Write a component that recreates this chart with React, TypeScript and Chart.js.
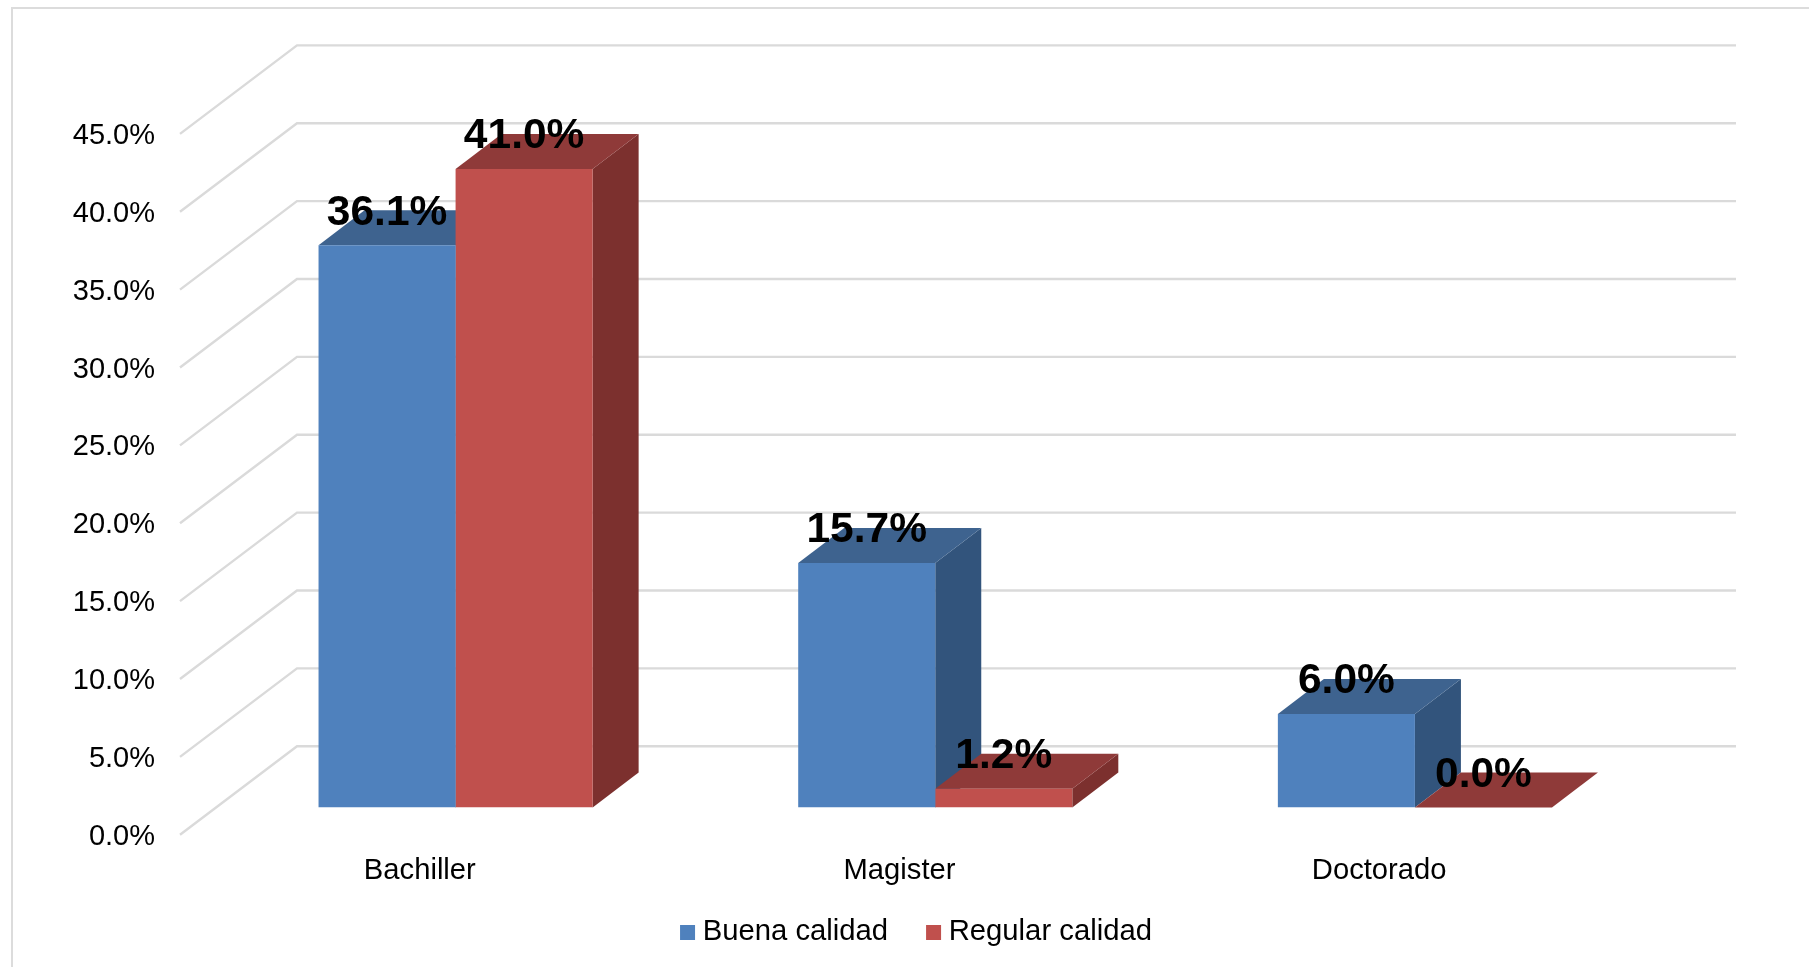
import React, { useEffect, useRef } from "react";
import { Chart, registerables } from "chart.js";

Chart.register(...registerables);

const categories = ["Bachiller", "Magister", "Doctorado"];
const buenaCalidad = [36.1, 15.7, 6.0];
const regularCalidad = [41.0, 1.2, 0.0];
const seriesNames = ["Buena calidad", "Regular calidad"];

const FONT = '"Liberation Sans", Arial, sans-serif';
const W = 1809;
const H = 967;
// Bars stand on a plane inside the box: the walls and labels are offset from it.
const PLANE = { left: 215.75, right: 1654.75, top: 106.7, bottom: 807.3 };
const FRONT = { dx: -35.75, dy: 27.2 };
const BACK = { dx: 81.25, dy: -61.3 };
const BAR_DEPTH = { dx: 46, dy: -35 };
const SHADES = [
  { top: "#3E638F", side: "#32547C" },
  { top: "#8F3A39", side: "#7C302E" },
];

const scene3d = {
  id: "scene3d",
  afterLayout(chart: any) {
    // Tick labels sit outside their axis boxes, so widen the boxes they are clipped to.
    chart.scales.y.left = 0;
    chart.scales.x.bottom = H;
  },
  beforeDatasetsDraw(chart: any) {
    const { ctx, chartArea, scales } = chart;
    ctx.save();
    // Frame of the picture
    ctx.strokeStyle = "#DCDCDC";
    ctx.lineWidth = 2;
    ctx.beginPath();
    ctx.moveTo(12, H);
    ctx.lineTo(12, 8);
    ctx.lineTo(W, 8);
    ctx.stroke();
    // Walls: one line for each tick of the value axis
    ctx.strokeStyle = "#DADADA";
    ctx.lineWidth = 2.4;
    for (const tick of scales.y.ticks) {
      const y = scales.y.getPixelForValue(tick.value);
      ctx.beginPath();
      ctx.moveTo(chartArea.left + FRONT.dx, y + FRONT.dy);
      ctx.lineTo(chartArea.left + BACK.dx, y + BACK.dy);
      ctx.lineTo(chartArea.right + BACK.dx, y + BACK.dy);
      ctx.stroke();
    }
    // Depth of each bar, series by series
    chart.data.datasets.forEach((_: any, d: number) => {
      const shade = SHADES[d];
      for (const bar of chart.getDatasetMeta(d).data) {
        const l = bar.x - bar.width / 2;
        const r = bar.x + bar.width / 2;
        const t = bar.y;
        const b = bar.base;
        ctx.fillStyle = shade.side;
        ctx.beginPath();
        ctx.moveTo(r, t);
        ctx.lineTo(r + BAR_DEPTH.dx, t + BAR_DEPTH.dy);
        ctx.lineTo(r + BAR_DEPTH.dx, b + BAR_DEPTH.dy);
        ctx.lineTo(r, b);
        ctx.closePath();
        ctx.fill();
        ctx.fillStyle = shade.top;
        ctx.beginPath();
        ctx.moveTo(l, t);
        ctx.lineTo(l + BAR_DEPTH.dx, t + BAR_DEPTH.dy);
        ctx.lineTo(r + BAR_DEPTH.dx, t + BAR_DEPTH.dy);
        ctx.lineTo(r, t);
        ctx.closePath();
        ctx.fill();
      }
    });
    ctx.restore();
  },
  afterDatasetsDraw(chart: any) {
    const { ctx } = chart;
    ctx.save();
    ctx.fillStyle = "#000";
    ctx.font = `bold 42.5px ${FONT}`;
    ctx.textAlign = "center";
    ctx.textBaseline = "middle";
    chart.data.datasets.forEach((ds: any, d: number) => {
      chart.getDatasetMeta(d).data.forEach((bar: any, i: number) => {
        ctx.fillText(ds.data[i].toFixed(1) + "%", bar.x, bar.y + BAR_DEPTH.dy + 2.5);
      });
    });
    ctx.restore();
  },
};

export default function App() {
  const ref = useRef<HTMLCanvasElement>(null);
  useEffect(() => {
    const chart = new Chart(ref.current as HTMLCanvasElement, {
      type: "bar",
      data: {
        labels: categories,
        datasets: [
          { label: seriesNames[0], data: buenaCalidad, backgroundColor: "#4F81BD", borderWidth: 0 },
          { label: seriesNames[1], data: regularCalidad, backgroundColor: "#C0504D", borderWidth: 0 },
        ],
      },
      options: {
        animation: false,
        responsive: false,
        events: [],
        layout: {
          padding: { top: PLANE.top, right: W - PLANE.right, left: 184.25, bottom: 10 },
        },
        datasets: { bar: { barPercentage: 1, categoryPercentage: 1 / 1.75 } },
        scales: {
          x: {
            grid: { display: false, drawTicks: false },
            border: { display: false },
            afterFit: (s: any) => {
              s.height = 65.2;
            },
            ticks: {
              color: "#000",
              font: { family: FONT, size: 29.2 },
              padding: 46,
              labelOffset: FRONT.dx,
              maxRotation: 0,
              autoSkip: false,
            },
          },
          y: {
            min: 0,
            max: 45,
            grid: { display: false, drawTicks: false },
            border: { display: false },
            afterFit: (s: any) => {
              s.width = 31.5;
            },
            ticks: {
              stepSize: 5,
              color: "#000",
              font: { family: FONT, size: 29 },
              padding: 60.75,
              labelOffset: FRONT.dy + 2,
              callback: (v: any) => Number(v).toFixed(1) + "%",
            },
          },
        },
        plugins: {
          tooltip: { enabled: false },
          title: { display: false },
          legend: {
            position: "bottom",
            labels: {
              color: "#000",
              font: { family: FONT, size: 29.25 },
              usePointStyle: true,
              pointStyle: "rect",
              boxWidth: 1,
              boxHeight: 15,
              padding: 45,
            },
          },
        },
      } as any,
      plugins: [scene3d],
    });
    return () => chart.destroy();
  }, []);
  return (
    <div style={{ position: "absolute", left: 0, top: 0, width: W, height: H, background: "#fff" }}>
      <canvas ref={ref} width={W} height={H} style={{ display: "block", width: W, height: H }} />
    </div>
  );
}
